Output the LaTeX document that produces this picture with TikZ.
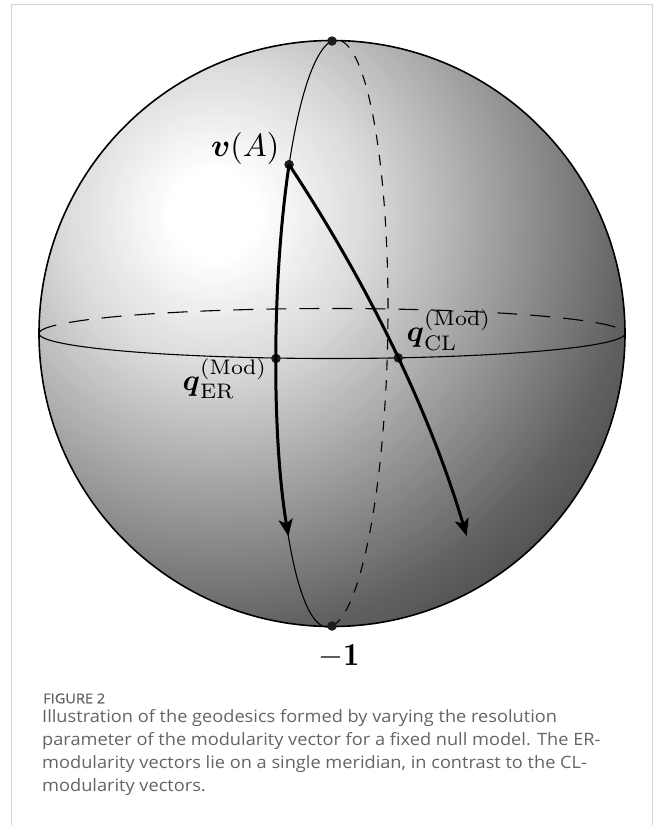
\documentclass[tikz,border=0pt]{standalone}
\usepackage{amsmath}
\usepackage{fontspec}
\newfontfamily\capfont{Open Sans}
\newfontfamily\capfontb{Open Sans}[FakeBold=0.9]
\usetikzlibrary{arrows.meta}
\definecolor{framec}{RGB}{212,212,212}
\definecolor{capc}{RGB}{100,100,100}
\definecolor{dotc}{RGB}{28,28,28}
\begin{document}
\begin{tikzpicture}[x=1pt,y=-1pt,
  thinl/.style={line width=1.1pt},
  backl/.style={line width=1.1pt, dash pattern=on 10.5pt off 10pt},
  eqback/.style={line width=1.1pt, dash pattern=on 20pt off 13pt},
  geo/.style={line width=3pt, -{Stealth[length=17pt,width=14pt,inset=4pt]}},
  dot/.style={circle, fill=dotc, inner sep=0pt, minimum size=9.5pt},
  lab/.style={inner sep=0pt, scale=3.2, transform shape},
  captext/.style={inner sep=0pt, anchor=base west, text=capc, xscale=1.07, transform shape, font=\capfont\fontsize{17}{20}\selectfont},
]
\useasboundingbox (0,0) rectangle (654,825);
\draw[framec, line width=1.5pt] (11.3,825) -- (11.3,4.7) -- (652.7,4.7) -- (652.7,825);
\coordinate (C) at (332,333.5);
\coordinate (hl) at (215,215);
% shaded sphere
\begin{scope}
\clip (C) circle (293pt);
\foreach \i in {93,...,0} {
  \pgfmathsetmacro{\rr}{5*\i}
  \pgfmathsetmacro{\pp}{\rr<46 ? 0 : (\rr<159 ? 15*(\rr-46)/113 : (\rr<420 ? 15+47*(\rr-159)/261 : 62+5*(\rr-420)/40))}
  \fill[black!\pp] (hl) circle (\rr pt);
}
\end{scope}
\draw[line width=1.6pt] (C) circle (293pt);
% hidden halves
\draw[eqback] plot[domain=180:360, samples=120] ({332+293*cos(\x)},{333.5+25*sin(\x)});
\draw[backl] plot[domain=-90:90, samples=120] ({332+56*cos(\x)},{333.5-25*cos(\x)-292.5*sin(\x)});
% visible halves
\draw[thinl] plot[domain=0:180, samples=120] ({332+293*cos(\x)},{333.5+25*sin(\x)});
\draw[thinl] plot[domain=90:270, samples=120] ({332+56*cos(\x)},{333.5-25*cos(\x)-292.5*sin(\x)});
% points
\node[dot] (top) at (332,41) {};
\node[dot] (bot) at (332,626) {};
\node[dot] (vA) at (289.1,164.6) {};
\node[dot] (ER) at (276,358.5) {};
\node[dot] (CL) at (398.3,357.9) {};
\coordinate (ERend) at (288.4,536.3);
\coordinate (CLend) at (466.7,536);
% geodesics
\draw[geo] (vA.center) .. controls (271.9,279.2) and (271.65,434.95) .. (ERend);
\draw[geo] (vA.center) .. controls (370.4,288.2) and (429.6,412) .. (CLend);
% labels
\node[lab, anchor=base east] (lvA) at (280,156) {$\boldsymbol{v}(A)$};
\node[lab, anchor=base west, scale=0.94] (lER) at (182,390) {$\boldsymbol{q}_{\mathrm{ER}}^{(\mathrm{Mod})}$};
\node[lab, anchor=base west, scale=0.94] (lCL) at (406,341) {$\boldsymbol{q}_{\mathrm{CL}}^{(\mathrm{Mod})}$};
\node[lab, anchor=base] (lm1) at (339,665.5) {$-\mathbf{1}$};
% caption
\node[captext, font=\capfontb\fontsize{13.6}{15}\selectfont] (fig) at (43,703.3) {FIGURE 2};
\node[captext] (c1) at (42,722.5) {Illustration of the geodesics formed by varying the resolution};
\node[captext] (c2) at (42,745.5) {parameter of the modularity vector for a fixed null model. The ER-};
\node[captext] (c3) at (42,768.5) {modularity vectors lie on a single meridian, in contrast to the CL-};
\node[captext] (c4) at (42,791.5) {modularity vectors.};
\end{tikzpicture}
\end{document}
